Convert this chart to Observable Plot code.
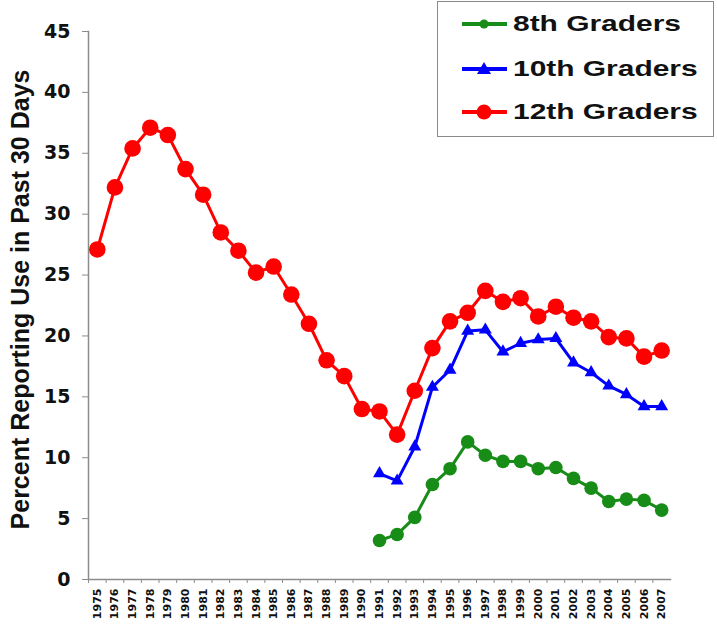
<!DOCTYPE html>
<html><head><meta charset="utf-8">
<script src="https://cdn.jsdelivr.net/npm/d3@7"></script>
<script src="https://cdn.jsdelivr.net/npm/@observablehq/plot@0.6"></script>
<style>
body{margin:0;background:#fff;}
#wrap{position:relative;width:717px;height:624px;overflow:hidden;}
#legend{position:absolute;left:437px;top:1px;width:277px;height:136px;border:1.5px solid #8a8a8a;box-sizing:border-box;background:#fff;}
.row{position:absolute;left:0;height:40px;width:277px;}
.row svg{position:absolute;left:23px;top:8px;}
.row span{position:absolute;left:75px;top:5px;font-family:"Liberation Sans",Arial,sans-serif;font-weight:bold;font-size:22.5px;line-height:26px;color:#111;transform:scaleX(1.33);transform-origin:left center;white-space:nowrap;}
</style></head><body><div id="wrap"></div>
<script>
const years = [1975,1976,1977,1978,1979,1980,1981,1982,1983,1984,1985,1986,1987,1988,1989,1990,1991,1992,1993,1994,1995,1996,1997,1998,1999,2000,2001,2002,2003,2004,2005,2006,2007];
const grade12 = [27.1,32.2,35.4,37.1,36.5,33.7,31.6,28.5,27.0,25.2,25.7,23.4,21.0,18.0,16.7,14.0,13.8,11.9,15.5,19.0,21.2,21.9,23.7,22.8,23.1,21.6,22.4,21.5,21.2,19.9,19.8,18.3,18.8];
const laterYears = [1991,1992,1993,1994,1995,1996,1997,1998,1999,2000,2001,2002,2003,2004,2005,2006,2007];
const grade10 = [8.7,8.1,10.9,15.8,17.2,20.4,20.5,18.7,19.4,19.7,19.8,17.8,17.0,15.9,15.2,14.2,14.2];
const grade8 = [3.2,3.7,5.1,7.8,9.1,11.3,10.2,9.7,9.7,9.1,9.2,8.3,7.5,6.4,6.6,6.5,5.7];
const yTicks = [0,5,10,15,20,25,30,35,40,45];
const seriesNames = ["8th Graders","10th Graders","12th Graders"];
const colors = ["#178c17","#0000ff","#ff0000"];
const yLabel = "Percent Reporting Use in Past 30 Days";

const d12 = years.map((y,i)=>({year:y, value:grade12[i]}));
const d10 = laterYears.map((y,i)=>({year:y, value:grade10[i]}));
const d8 = laterYears.map((y,i)=>({year:y, value:grade8[i]}));

const W = 717, H = 624, mL = 88, mR = 47, mT = 31, mB = 45;
const bw = (W - mL - mR) / years.length;

const chart = Plot.plot({
  width: W, height: H,
  marginLeft: mL, marginRight: mR, marginTop: mT, marginBottom: mB,
  style: {fontFamily: "DejaVu Sans", fontWeight: "bold", background: "white", color: "#111"},
  x: {type: "band", domain: years, padding: 0, round: false},
  y: {domain: [0, 45]},
  marks: [
    Plot.frame({anchor: "left", stroke: "#8c8c8c", strokeWidth: 1.5}),
    Plot.frame({anchor: "bottom", stroke: "#8c8c8c", strokeWidth: 1.5}),
    Plot.axisY({ticks: yTicks, tickSize: 6, tickPadding: 12, fontSize: 19, label: null, stroke: "#8c8c8c"}),
    Plot.axisX({tickSize: 0, tickRotate: -90, fontSize: 11, tickPadding: 9, label: null, tickFormat: d => String(d)}),
    Plot.axisX({tickSize: 4, text: null, label: null, dx: -bw/2, stroke: "#8c8c8c"}),
    Plot.text([yLabel], {frameAnchor: "left", textAnchor: "middle", dx: -68, dy: -6, rotate: -90, fontSize: 25, fontFamily: "Liberation Sans", fontWeight: "bold", fill: "#111"}),
    Plot.line(d8, {x: "year", y: "value", stroke: colors[0], strokeWidth: 3}),
    Plot.dot(d8, {x: "year", y: "value", fill: colors[0], r: 6.8}),
    Plot.line(d10, {x: "year", y: "value", stroke: colors[1], strokeWidth: 3}),
    Plot.dot(d10, {x: "year", y: "value", fill: colors[1], symbol: "triangle", r: 4.8}),
    Plot.line(d12, {x: "year", y: "value", stroke: colors[2], strokeWidth: 3}),
    Plot.dot(d12, {x: "year", y: "value", fill: colors[2], r: 8.3})
  ]
});
const wrap = document.getElementById("wrap");
wrap.appendChild(chart);

// legend overlay
const legend = document.createElement("div");
legend.id = "legend";
const rowTops = [4, 49, 92];
const symbols = [
  c => `<circle cx="23" cy="10" r="4.5" fill="${c}"/>`,
  c => `<path d="M23,3 L30,15 L16,15 Z" fill="${c}"/>`,
  c => `<circle cx="23" cy="10" r="7.5" fill="${c}"/>`
];
seriesNames.forEach((name, i) => {
  const row = document.createElement("div");
  row.className = "row";
  row.style.top = rowTops[i] + "px";
  row.innerHTML = `<svg width="48" height="20"><line x1="1" x2="46" y1="10" y2="10" stroke="${colors[i]}" stroke-width="4"/>${symbols[i](colors[i])}</svg><span>${name}</span>`;
  legend.appendChild(row);
});
wrap.appendChild(legend);
</script>
</body></html>
